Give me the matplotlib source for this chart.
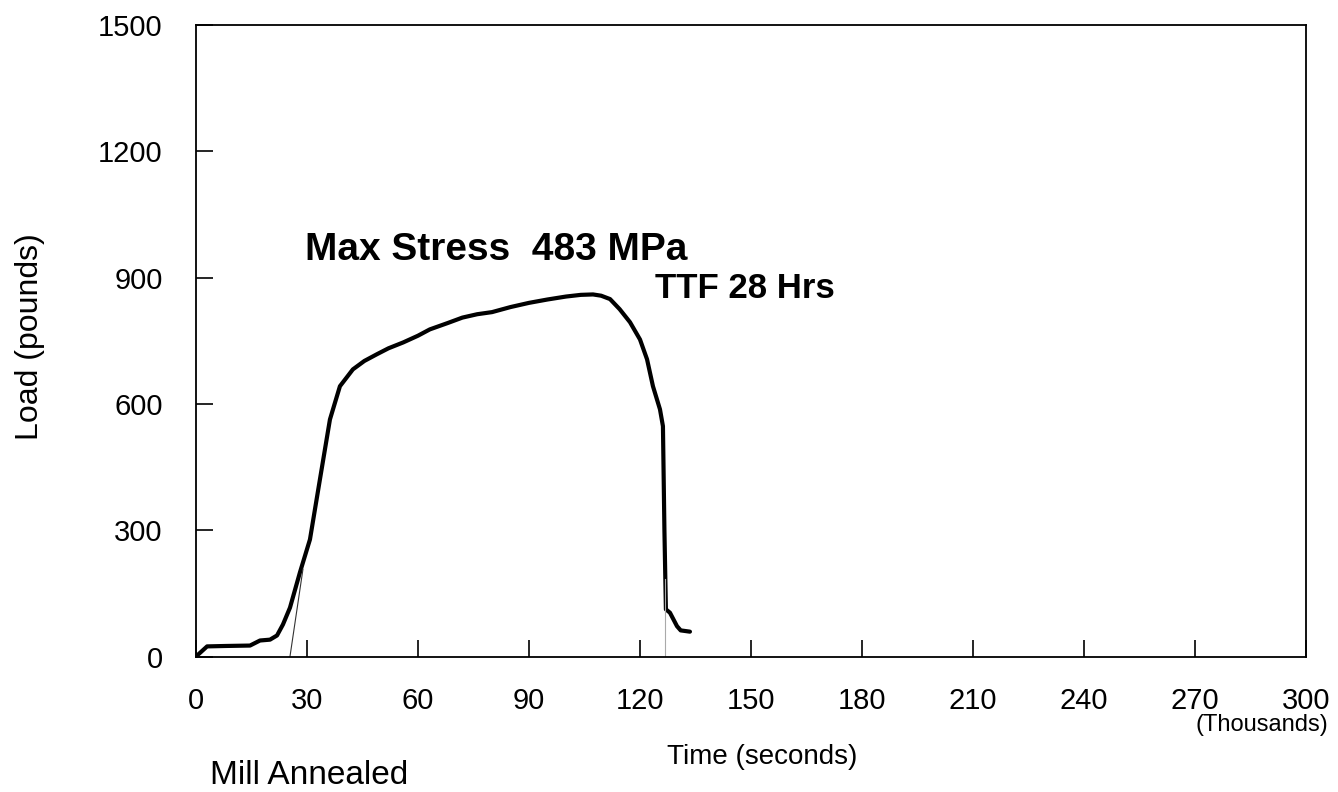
import matplotlib
matplotlib.use("Agg")
import matplotlib.pyplot as plt

plt.rcParams['font.family'] = ['Liberation Sans', 'DejaVu Sans']

# Data: time (thousands of seconds) vs load (pounds)
time_k = [0, 3, 8, 14.6, 17.3, 20, 21.9, 23.5, 25.4, 28.1, 30.8, 33.5, 36.2, 38.9,
          42.4, 45.5, 48.9, 52, 56, 60, 63.2, 68, 72, 76, 80, 85, 90, 95, 100, 104,
          107.3, 109.5, 111.9, 114.5, 117.3, 120, 121.9, 123.5, 125.4, 126.2,
          126.6, 127, 128.1, 130, 131, 133.5]
load_lb = [0, 24, 25, 26, 38, 40, 50, 76, 116, 200, 278, 421, 563, 642,
           682, 702, 718, 732, 746, 762, 777, 792, 805, 813, 818, 830, 840, 848,
           855, 859, 860, 857, 849, 825, 794, 753, 706,
           642, 587, 547, 300, 112, 104, 72, 62, 59]

# thin construction lines
tangent_x = [25.4, 28.9]
tangent_y = [0, 207]
fail_x = [126.8, 126.8]
fail_y = [0, 183]

x_ticks = [0, 30, 60, 90, 120, 150, 180, 210, 240, 270, 300]
y_ticks = [0, 300, 600, 900, 1200, 1500]

W, H = 1338, 792
fig = plt.figure(figsize=(W / 100, H / 100), dpi=100)
ax = fig.add_axes([196 / W, 1 - 656.5 / H, 1110 / W, 631.5 / H])

ax.plot(time_k, load_lb, color='black', lw=3.0, solid_joinstyle='round',
        solid_capstyle='round')
ax.plot(tangent_x, tangent_y, color='#333333', lw=0.8)
ax.plot(fail_x, fail_y, color='#aaaaaa', lw=0.8)

ax.set_xlim(0, 300)
ax.set_ylim(0, 1500)
ax.set_xticks(x_ticks)
ax.set_yticks(y_ticks)
ax.tick_params(axis='both', direction='in', length=12, width=1.2, labelsize=21)
ax.tick_params(axis='x', pad=22)
ax.tick_params(axis='y', pad=24)
for s in ax.spines.values():
    s.set_linewidth(1.3)

def ft(x, y, s, **kw):
    fig.text(x / W, 1 - y / H, s, **kw)

ft(30, 337, 'Load (pounds)', rotation=90, ha='center', va='center', fontsize=23)
ft(762, 757, 'Time (seconds)', ha='center', va='center', fontsize=20)
ft(1262, 725, '(Thousands)', ha='center', va='center', fontsize=17)
ft(210, 776, 'Mill Annealed', ha='left', va='center', fontsize=24)
ft(305, 250, 'Max Stress  483 MPa', ha='left', va='center', fontsize=28, fontweight='bold')
ft(655, 288, 'TTF 28 Hrs', ha='left', va='center', fontsize=25, fontweight='bold')

fig.savefig('out.png', dpi=100)
